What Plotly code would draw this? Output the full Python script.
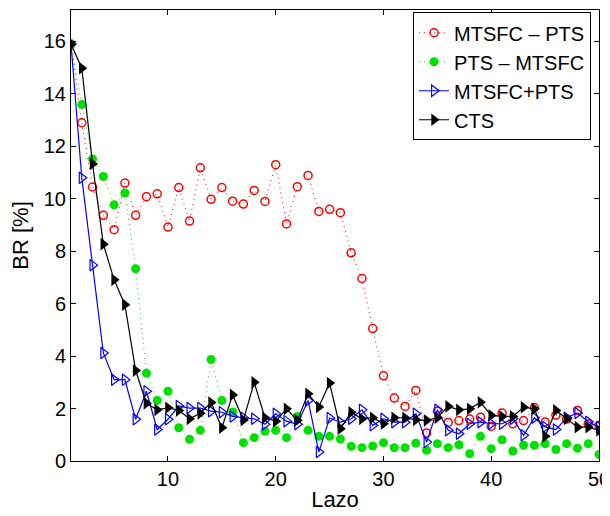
import plotly.graph_objects as go

lazo = list(range(1, 51))

mtsfc_pts = [15.9, 12.9, 10.45, 9.37, 8.82, 10.6, 9.37, 10.08, 10.19, 8.92,
             10.43, 9.15, 11.18, 9.98, 10.43, 9.91, 9.8, 10.32, 9.9, 11.3,
             9.04, 10.46, 10.89, 9.52, 9.6, 9.47, 7.94, 6.96, 5.05, 3.25,
             2.4, 2.08, 2.69, 1.07, 1.9, 1.47, 1.54, 1.6, 1.67, 1.32,
             1.83, 1.42, 1.54, 2.04, 1.49, 1.75, 1.6, 1.93, 1.41, 1.36]

pts_mtsfc = [15.9, 13.6, 11.52, 10.85, 9.77, 10.22, 7.33, 3.35, 2.31, 2.66,
             1.27, 0.83, 1.17, 3.87, 2.31, 1.87, 0.7, 0.89, 1.13, 1.17,
             0.89, 1.7, 1.17, 0.94, 0.94, 0.84, 0.56, 0.51, 0.57, 0.7,
             0.51, 0.51, 0.68, 0.41, 0.66, 0.51, 0.62, 0.28, 0.94, 0.47,
             0.81, 0.38, 0.6, 0.6, 0.66, 0.44, 0.66, 0.49, 0.66, 0.25]

mtsfc_plus_pts = [15.9, 10.8, 7.47, 4.12, 3.1, 3.1, 1.59, 2.66, 1.2, 1.59,
                  2.1, 2.02, 2.02, 1.9, 1.86, 1.7, 1.65, 1.61, 1.4, 1.8,
                  1.52, 1.4, 2.31, 0.34, 1.64, 1.48, 1.61, 1.95, 1.36, 1.61,
                  1.48, 1.48, 1.8, 0.72, 1.95, 1.17, 1.04, 1.42, 1.48, 1.42,
                  1.42, 1.61, 0.98, 1.65, 1.3, 1.2, 1.65, 1.83, 1.5, 1.29]

cts = [15.9, 14.98, 11.33, 8.27, 6.91, 5.96, 3.45, 2.2, 1.95, 2.03,
       1.93, 1.61, 1.82, 2.23, 1.27, 2.52, 1.56, 3.0, 1.65, 1.52,
       1.99, 1.55, 2.56, 2.06, 2.97, 1.23, 1.86, 1.61, 1.65, 1.42,
       1.65, 1.65, 1.57, 1.55, 1.65, 2.08, 1.95, 1.99, 2.24, 1.74,
       1.7, 1.7, 2.05, 1.99, 0.94, 1.93, 1.61, 1.29, 1.29, 1.17]

names = ["MTSFC \u2013 PTS", "PTS \u2013 MTSFC", "MTSFC+PTS", "CTS"]
x_ticks = [10, 20, 30, 40, 50]
y_ticks = [0, 2, 4, 6, 8, 10, 12, 14, 16]

fig = go.Figure()
fig.add_trace(go.Scatter(
    x=lazo, y=mtsfc_pts, name=names[0], mode="lines+markers",
    line=dict(color="#ff0000", width=1, dash="1px,4px"),
    marker=dict(symbol="circle-open", size=8, color="#ff0000",
                line=dict(width=1.5, color="#ff0000"))))
fig.add_trace(go.Scatter(
    x=lazo, y=pts_mtsfc, name=names[1], mode="lines+markers",
    line=dict(color="#00e000", width=1, dash="1px,4px"),
    marker=dict(symbol="circle", size=9, color="#00e000")))
fig.add_trace(go.Scatter(
    x=lazo, y=mtsfc_plus_pts, name=names[2], mode="lines+markers",
    line=dict(color="#0000ff", width=1.2),
    marker=dict(symbol="triangle-right-open", size=10, color="#0000ff",
                line=dict(width=1.2, color="#0000ff"))))
fig.add_trace(go.Scatter(
    x=lazo, y=cts, name=names[3], mode="lines+markers",
    line=dict(color="#000000", width=1.2),
    marker=dict(symbol="triangle-right", size=11, color="#000000")))

axis_common = dict(showline=True, linecolor="black", linewidth=1, mirror="ticks",
                   ticks="inside", ticklen=5, tickcolor="black", showgrid=False,
                   zeroline=False, automargin=False, ticklabeloverflow="allow",
                   tickfont=dict(size=20, color="black"))

# page body has an 8px margin, so the figure is 8px smaller than the window
fig.update_layout(
    width=602, height=508,
    margin=dict(l=63, r=11, t=2, b=55),
    paper_bgcolor="white", plot_bgcolor="white",
    font=dict(family="Liberation Sans", color="black"),
    xaxis=dict(range=[1, 50], tickvals=x_ticks,
               title=dict(text="Lazo", font=dict(size=22), standoff=2),
               **axis_common),
    yaxis=dict(range=[0, 17.2], tickvals=y_ticks,
               title=dict(text="BR [%]", font=dict(size=22), standoff=13),
               **axis_common),
    legend=dict(x=0.985, y=0.995, xanchor="right", yanchor="top",
                bgcolor="white", bordercolor="black", borderwidth=1,
                font=dict(size=20, color="black"), tracegroupgap=0,
                itemwidth=30),
    showlegend=True,
)

fig.write_html("out.html")
